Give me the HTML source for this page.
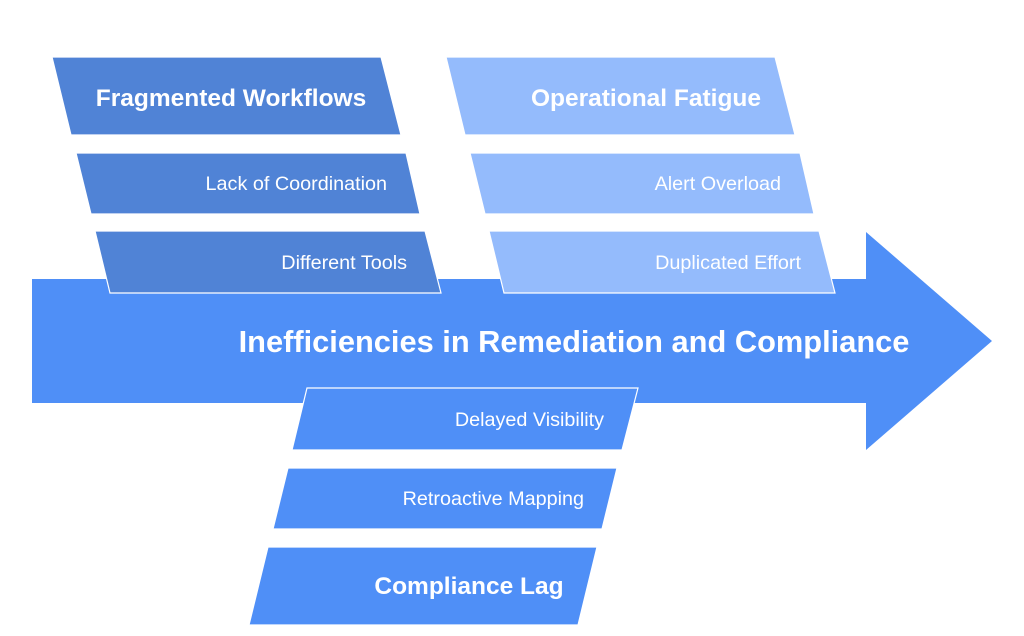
<!DOCTYPE html>
<html><head><meta charset="utf-8"><style>
html,body{margin:0;padding:0;background:#fff;}
svg{display:block;font-family:"Liberation Sans",Roboto,sans-serif;}
</style></head><body>
<svg width="1024" height="636" viewBox="0 0 1024 636" xmlns="http://www.w3.org/2000/svg">
<polygon points="32,279 866,279 866,232 992,341 866,450 866,403 32,403" fill="#4f8ff7"/>
<g stroke="#ffffff" stroke-width="1.2">
<polygon points="52,57 381,57 401,135 71,135" fill="#5083d6"/>
<polygon points="76,153 406,153 420,214 91,214" fill="#5083d6"/>
<polygon points="95,231 425,231 441,293 110,293" fill="#5083d6"/>
<polygon points="446,57 775,57 795,135 465,135" fill="#94bbfc"/>
<polygon points="470,153 800,153 814,214 485,214" fill="#94bbfc"/>
<polygon points="489,231 819,231 835,293 504,293" fill="#94bbfc"/>
<polygon points="307,388 638,388 622,450 292,450" fill="#4f8ff7"/>
<polygon points="288,468 617,468 602,529 273,529" fill="#4f8ff7"/>
<polygon points="268,547 597,547 578,625 249,625" fill="#4f8ff7"/>
</g>
<g fill="#fff">
<text x="231" y="106" font-size="24.5" font-weight="bold" text-anchor="middle">Fragmented Workflows</text>
<text x="387" y="190" font-size="19.8" text-anchor="end">Lack of Coordination</text>
<text x="407" y="269" font-size="19.8" text-anchor="end">Different Tools</text>
<text x="646" y="106" font-size="24.5" font-weight="bold" text-anchor="middle">Operational Fatigue</text>
<text x="781" y="190" font-size="19.8" text-anchor="end">Alert Overload</text>
<text x="801" y="269" font-size="19.8" text-anchor="end">Duplicated Effort</text>
<text x="574" y="352" font-size="30.8" font-weight="bold" text-anchor="middle">Inefficiencies in Remediation and Compliance</text>
<text x="604" y="426" font-size="19.8" text-anchor="end">Delayed Visibility</text>
<text x="584" y="505" font-size="19.8" text-anchor="end">Retroactive Mapping</text>
<text x="469" y="594" font-size="24.5" font-weight="bold" text-anchor="middle">Compliance Lag</text>
</g>
</svg>
</body></html>
